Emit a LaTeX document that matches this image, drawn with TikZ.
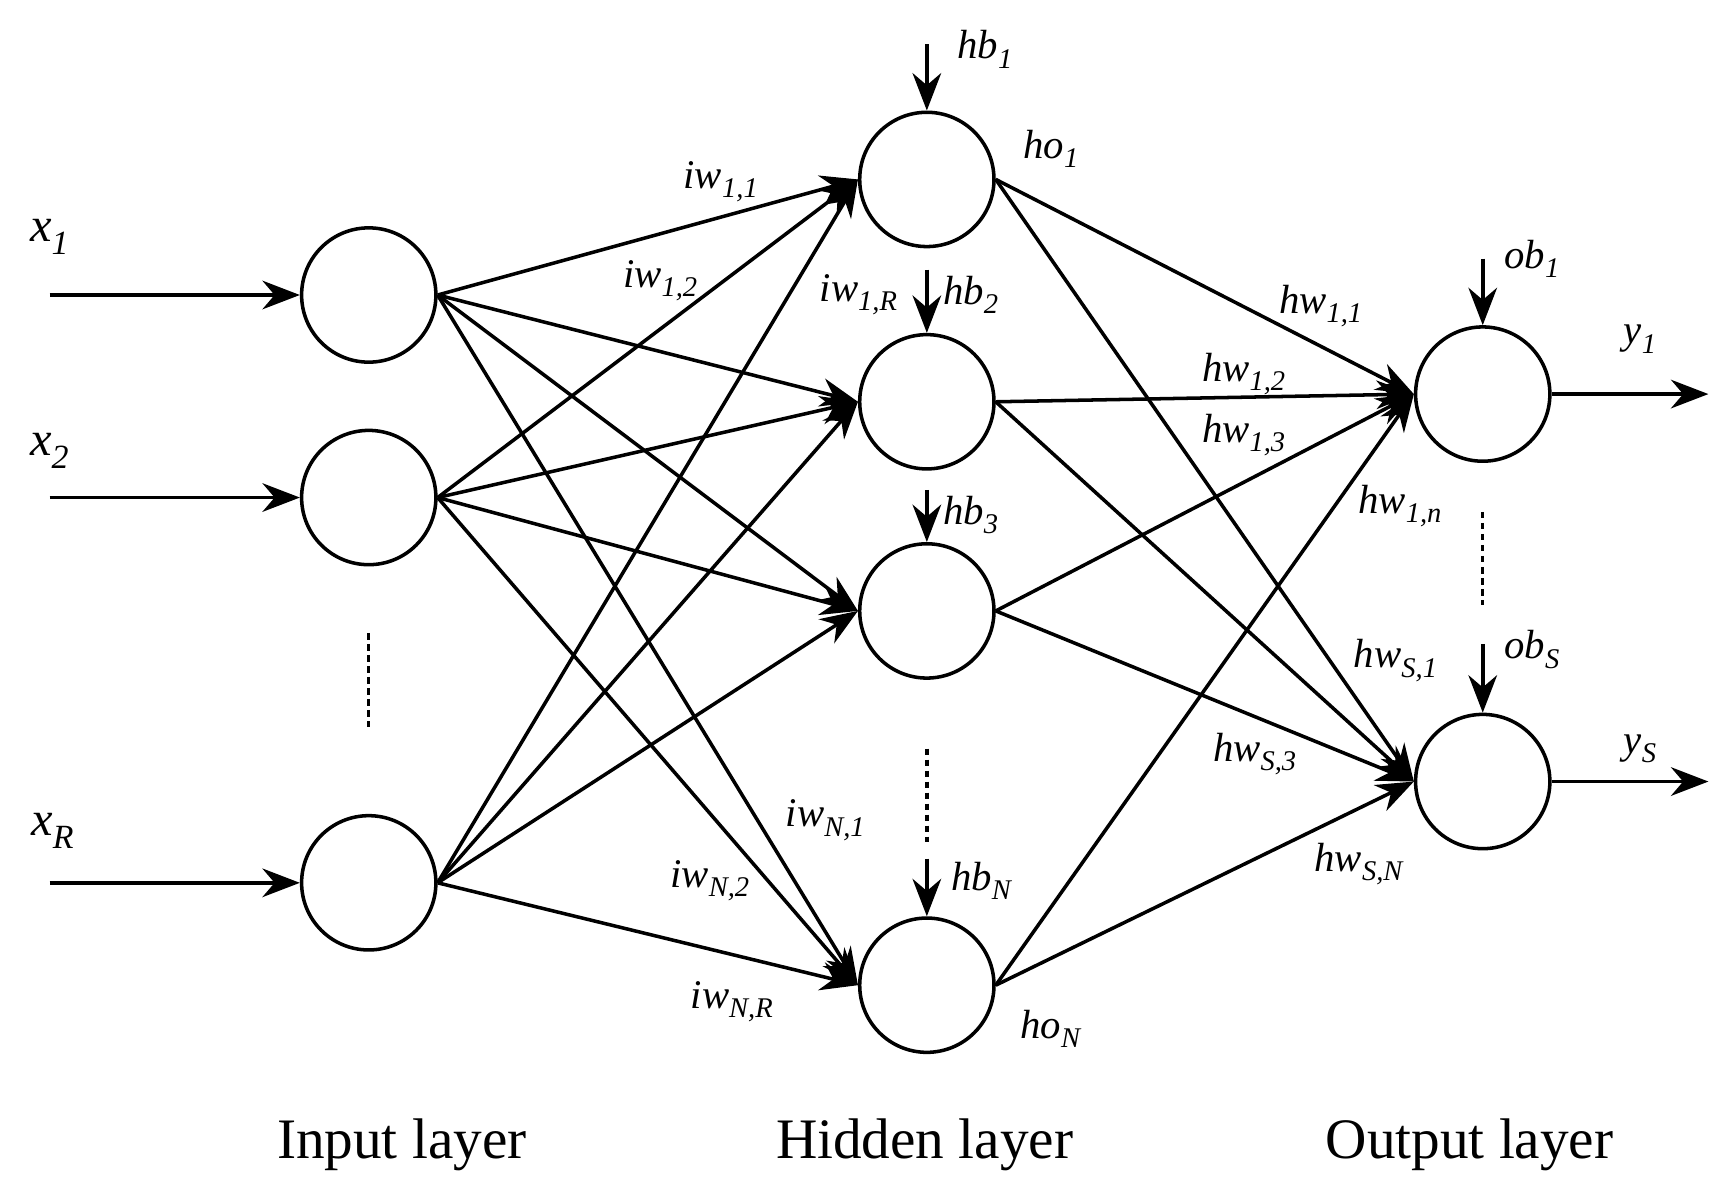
\documentclass[tikz,border=0pt]{standalone}
\usepackage{fontspec}
\setmainfont{Liberation Serif}
\usetikzlibrary{arrows.meta}
\newcommand{\lab}[2]{\textit{#1}\textsubscript{\textit{#2}}}
\begin{document}
\begin{tikzpicture}[x=1pt,y=-1pt,
  neu/.style={circle,draw,line width=3.2pt,minimum size=122pt,inner sep=0pt},
  con/.style={line width=3.2pt,-{Stealth[length=34pt,width=26pt]}},
  lb/.style={font=\fontsize{37}{39}\selectfont,inner sep=0pt},
  tt/.style={font=\fontsize{52}{54}\selectfont,inner sep=0pt},
  dots/.style={line width=3pt,dash pattern=on 6pt off 4pt}]
\useasboundingbox (0,0) rectangle (1568,1083);
\node[neu] (i1) at (335,268) {};
\node[neu] (i2) at (335,452) {};
\node[neu] (iR) at (335,802) {};
\node[neu] (h1) at (842,163) {};
\node[neu] (h2) at (842,365) {};
\node[neu] (h3) at (842,555) {};
\node[neu] (hN) at (842,895) {};
\node[neu] (o1) at (1347,358) {};
\node[neu] (oS) at (1347,710) {};
\coordinate (a1) at (45,268); \coordinate (a2) at (45,452); \coordinate (aR) at (45,802);
\coordinate (e1) at (1552,358); \coordinate (eS) at (1552,710);
\draw[con] (a1) -- (i1); \draw[con] (a2) -- (i2); \draw[con] (aR) -- (iR);
\draw[con] (o1) -- (e1); \draw[con] (oS) -- (eS);
\foreach \s in {i1,i2,iR} \foreach \t in {h1,h2,h3,hN} \draw[con] (\s.east) -- (\t.west);
\foreach \s in {h1,h2,h3,hN} \foreach \t in {o1,oS} \draw[con] (\s.east) -- (\t.west);
\coordinate (b1) at (842,40); \coordinate (b2) at (842,245); \coordinate (b3) at (842,445);
\coordinate (bN) at (842,780); \coordinate (c1) at (1347,235); \coordinate (cS) at (1347,585);
\draw[con] (b1) -- (h1); \draw[con] (b2) -- (h2); \draw[con] (b3) -- (h3); \draw[con] (bN) -- (hN);
\draw[con] (c1) -- (o1); \draw[con] (cS) -- (oS);
\coordinate (d1) at (335,575); \coordinate (d2) at (335,660); \draw[dots] (d1) -- (d2);
\coordinate (d3) at (842,680); \coordinate (d4) at (842,765); \draw[dots] (d3) -- (d4);
\coordinate (d5) at (1347,465); \coordinate (d6) at (1347,550); \draw[dots] (d5) -- (d6);
\node[lb,font=\fontsize{44}{46}\selectfont] (lx1) at (45,215) {\lab{x}{1}};
\node[lb,font=\fontsize{44}{46}\selectfont] (lx2) at (45,410) {\lab{x}{2}};
\node[lb,font=\fontsize{44}{46}\selectfont] (lxR) at (48,755) {\lab{x}{R}};
\node[lb] at (655,165) {\lab{iw}{1,1}};
\node[lb] at (600,255) {\lab{iw}{1,2}};
\node[lb] at (780,268) {\lab{iw}{1,R}};
\node[lb] at (895,45) {\lab{hb}{1}};
\node[lb] at (955,135) {\lab{ho}{1}};
\node[lb] at (882,268) {\lab{hb}{2}};
\node[lb] at (882,468) {\lab{hb}{3}};
\node[lb] at (892,800) {\lab{hb}{N}};
\node[lb] at (955,935) {\lab{ho}{N}};
\node[lb] at (750,745) {\lab{iw}{N,1}};
\node[lb] at (645,800) {\lab{iw}{N,2}};
\node[lb] at (665,910) {\lab{iw}{N,R}};
\node[lb] at (1200,278) {\lab{hw}{1,1}};
\node[lb] at (1130,340) {\lab{hw}{1,2}};
\node[lb] at (1130,395) {\lab{hw}{1,3}};
\node[lb] at (1272,460) {\lab{hw}{1,n}};
\node[lb] at (1268,600) {\lab{hw}{S,1}};
\node[lb] at (1140,685) {\lab{hw}{S,3}};
\node[lb] at (1235,785) {\lab{hw}{S,N}};
\node[lb] at (1392,235) {\lab{ob}{1}};
\node[lb] at (1392,590) {\lab{ob}{S}};
\node[lb] at (1490,308) {\lab{y}{1}};
\node[lb] at (1490,680) {\lab{y}{S}};
\node[tt] at (365,1040) {Input layer};
\node[tt] at (840,1040) {Hidden layer};
\node[tt] at (1335,1040) {Output layer};
\end{tikzpicture}
\end{document}
